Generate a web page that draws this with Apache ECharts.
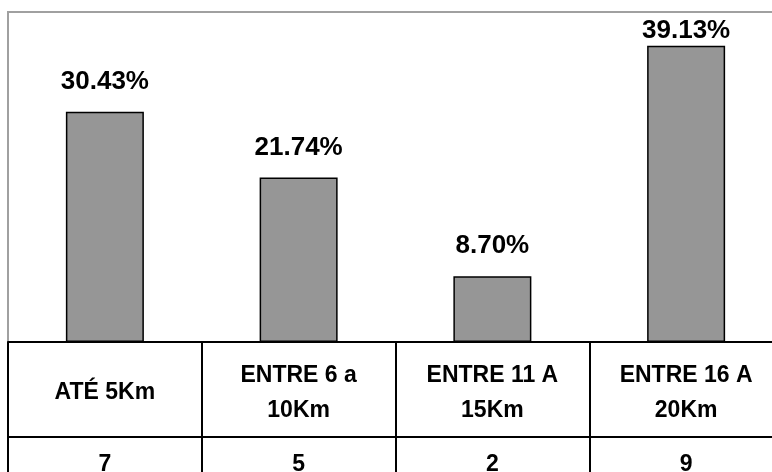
<!DOCTYPE html>
<html>
<head>
<meta charset="utf-8">
<script src="https://cdn.jsdelivr.net/npm/echarts@6/dist/echarts.min.js"></script>
<style>
    html, body { margin: 0; padding: 0; background: #fff; overflow: hidden; }
    #chart { width: 785px; height: 480px; }
</style>
</head>
<body>
<div id="chart"></div>
<script>
// dados do gráfico
const categories = ['ATÉ 5Km', 'ENTRE 6 a\n10Km', 'ENTRE 11 A\n15Km', 'ENTRE 16 A\n20Km'];
const percents = [30.43, 21.74, 8.70, 39.13];
const counts = [7, 5, 2, 9];

const font = '"Liberation Sans", Arial, sans-serif';

const chartInstance = echarts.init(document.getElementById('chart'));

const option = {
    animation: false,
    grid: {
        left: 8,
        top: 12,
        right: 2,
        bottom: 138,
        show: true,
        borderColor: '#a0a0a0',
        borderWidth: 2,
        backgroundColor: '#fff'
    },
    xAxis: [
        {
            type: 'category',
            data: categories,
            position: 'bottom',
            axisLine: { lineStyle: { color: '#000', width: 2 } },
            axisTick: { show: true, length: 95, lineStyle: { color: '#000', width: 2 } },
            axisLabel: {
                margin: 51,
                verticalAlign: 'middle',
                color: '#000',
                fontFamily: font,
                fontWeight: 'bold',
                fontSize: 23,
                lineHeight: 35
            }
        },
        {
            type: 'category',
            data: categories,
            position: 'bottom',
            offset: 95,
            axisLine: { lineStyle: { color: '#000', width: 2 } },
            axisTick: { show: true, length: 40, lineStyle: { color: '#000', width: 2 } },
            axisLabel: {
                margin: 28,
                verticalAlign: 'middle',
                color: '#000',
                fontFamily: font,
                fontWeight: 'bold',
                fontSize: 23,
                formatter: (v, i) => String(counts[i])
            }
        }
    ],
    yAxis: {
        type: 'value',
        min: 0,
        max: 43.6,
        show: false,
        splitLine: { show: false }
    },
    series: [
        {
            type: 'bar',
            xAxisIndex: 0,
            barWidth: 78,
            data: percents.map((v, i) => i === 3
                ? { value: v, label: { distance: 2 } }
                : v),
            itemStyle: { color: '#969696', borderColor: '#000', borderWidth: 1.5 },
            label: {
                show: true,
                position: 'top',
                distance: 17,
                color: '#000',
                fontFamily: font,
                fontWeight: 'bold',
                fontSize: 26,
                formatter: (p) => p.value.toFixed(2) + '%'
            }
        }
    ]
};

chartInstance.setOption(option);
</script>
</body>
</html>
